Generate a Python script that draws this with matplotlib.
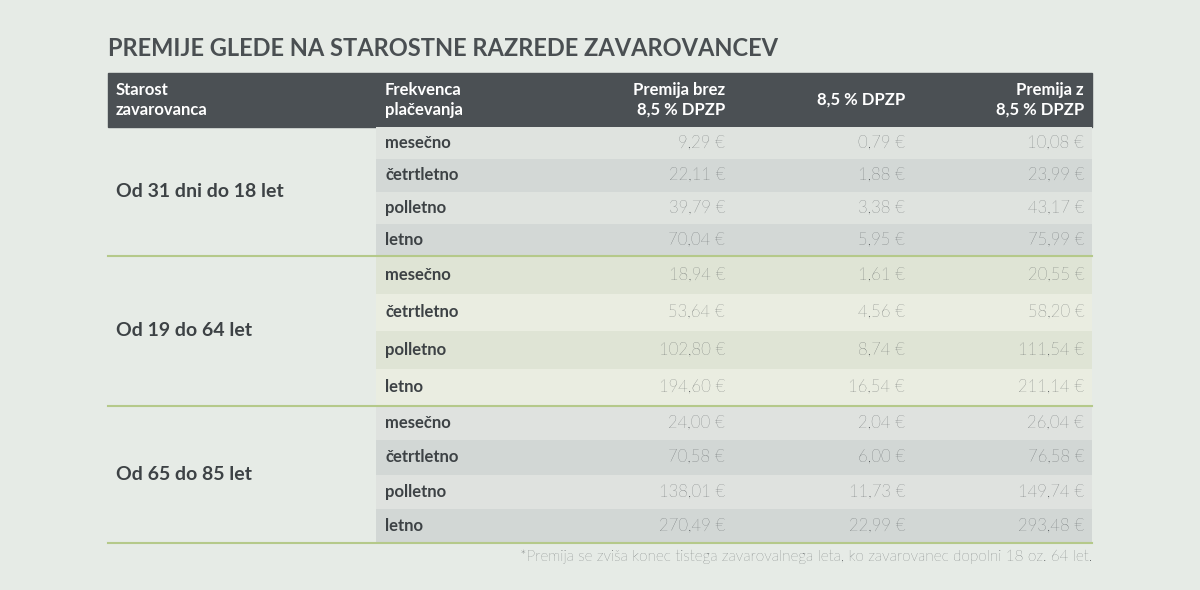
import matplotlib.pyplot as plt
from matplotlib.patches import Rectangle

# data
ages = ["Od 31 dni do 18 let", "Od 19 do 64 let", "Od 65 do 85 let"]
freqs = ["mesečno", "četrtletno", "polletno", "letno"]
neto = [[9.29, 22.11, 39.79, 70.04],
        [18.94, 53.64, 102.80, 194.60],
        [24.00, 70.58, 138.01, 270.49]]
dpzp = [[0.79, 1.88, 3.38, 5.95],
        [1.61, 4.56, 8.74, 16.54],
        [2.04, 6.00, 11.73, 22.99]]
bruto = [[10.08, 23.99, 43.17, 75.99],
         [20.55, 58.20, 111.54, 211.14],
         [26.04, 76.58, 149.74, 293.48]]
headers = ["Starost\nzavarovanca", "Frekvenca\nplačevanja", "Premija brez\n8,5 % DPZP",
           "8,5 % DPZP", "Premija z\n8,5 % DPZP"]
title = "PREMIJE GLEDE NA STAROSTNE RAZREDE ZAVAROVANCEV"
note = "*Premija se zviša konec tistega zavarovalnega leta, ko zavarovanec dopolni 18 oz. 64 let."

plt.rcParams["font.family"] = "Lato"
bg = "#e6ebe6"
dark = "#4b5054"
txt = "#3d4245"
green = "#b5c98a"
bands = [("#dfe3df", "#d3d8d6"), ("#dfe4d5", "#eaede1"), ("#dfe2df", "#d2d7d5")]
group_y = [(127, 256), (256, 406), (406, 543)]

fig = plt.figure(figsize=(12, 5.9), dpi=100, facecolor=bg)
ax = fig.add_axes([0, 0, 1, 1])
ax.set_xlim(0, 1200)
ax.set_ylim(590, 0)
ax.axis("off")

L, R = 108, 1092
ax.text(L, 48, title, fontsize=17, fontweight="bold", color="#4a4f52", va="center")
ax.add_patch(Rectangle((L, 73), R - L, 54, color=dark))
hx = [116, 385, 725, 905, 1084]
ha = ["left", "left", "right", "right", "right"]
for x, h, a in zip(hx, headers, ha):
    ax.text(x, 100, h, color="white", fontsize=12, fontweight="bold", ha=a, va="center",
            linespacing=1.25)

def fmt(v):
    return f"{v:.2f}".replace(".", ",") + " €"

for g, (y0, y1) in enumerate(group_y):
    rh = (y1 - y0) / len(freqs)
    for i, f in enumerate(freqs):
        ry = y0 + i * rh
        ax.add_patch(Rectangle((376, ry), R - 376, rh, color=bands[g][i % 2], lw=0))
        yc = ry + rh / 2
        ax.text(385, yc, f, fontsize=12, fontweight="bold", color=txt, va="center")
        for x, arr in zip([725, 905, 1084], [neto, dpzp, bruto]):
            ax.text(x, yc, fmt(arr[g][i]), fontsize=12, fontweight="light", color=txt,
                    ha="right", va="center")
    ax.text(116, (y0 + y1) / 2, ages[g], fontsize=14, fontweight="bold", color=txt, va="center")
    ax.plot([L, R], [y1, y1], color=green, lw=1.5)

ax.text(R, 557, note, fontsize=11, fontweight="light", color=txt, ha="right", va="center")

fig.savefig("out.png", dpi=100, facecolor=bg)
